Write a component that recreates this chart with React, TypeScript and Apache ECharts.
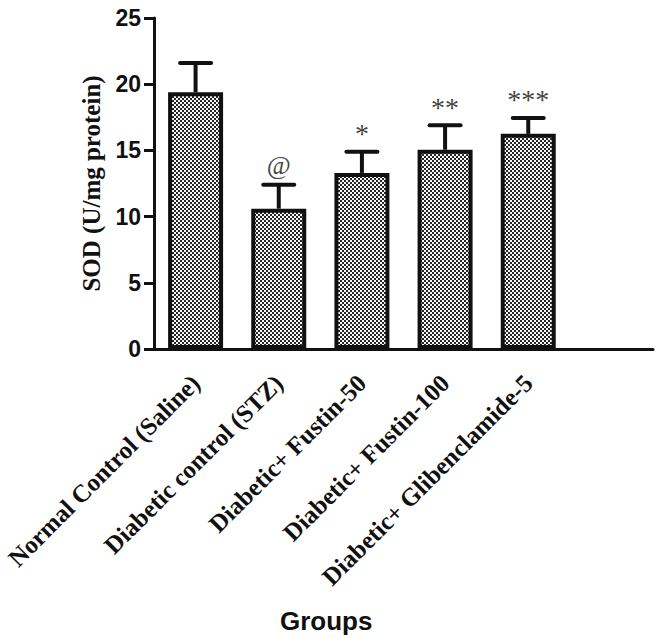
import React, { useEffect, useRef } from "react";
import * as echarts from "echarts";

const categories = [
  "Normal Control (Saline)",
  "Diabetic control (STZ)",
  "Diabetic+ Fustin-50",
  "Diabetic+ Fustin-100",
  "Diabetic+ Glibenclamide-5",
];
const means = [19.4, 10.6, 13.3, 15.05, 16.25];
const sem = [2.2, 1.8, 1.6, 1.85, 1.2];
const marks = ["", "@", "*", "**", "***"];
const yTicks = [0, 5, 10, 15, 20, 25];

function makePattern() {
  const c = document.createElement("canvas");
  c.width = 4;
  c.height = 4;
  const ctx = c.getContext("2d")!;
  ctx.fillStyle = "#f7f7f7";
  ctx.fillRect(0, 0, 4, 4);
  ctx.fillStyle = "#262626";
  ctx.fillRect(0, 0, 2, 2);
  ctx.fillRect(2, 2, 2, 2);
  return c;
}

export default function App() {
  const ref = useRef<HTMLDivElement>(null);
  useEffect(() => {
    if (!ref.current) return;
    const chart = echarts.init(ref.current, undefined, { renderer: "svg" });
    const pattern = makePattern();
    const axisData = [...categories, ""];
    const errData = means.map((m, i) => [i, m, m + sem[i], marks[i]]);
    chart.setOption({
      animation: false,
      backgroundColor: "#ffffff",
      grid: { left: 154, right: 16, top: 18, bottom: 289, containLabel: false },
      xAxis: {
        type: "category",
        data: axisData,
        axisLine: { lineStyle: { color: "#111", width: 3 } },
        axisTick: { alignWithLabel: true, length: 10, lineStyle: { color: "#111", width: 3 } },
        axisLabel: {
          rotate: 45,
          interval: 0,
          margin: 30,
          fontFamily: "Liberation Serif",
          fontWeight: "bold",
          fontSize: 25,
          color: "#111",
        },
      },
      yAxis: {
        type: "value",
        min: yTicks[0],
        max: yTicks[yTicks.length - 1],
        interval: 5,
        name: "SOD (U/mg protein)",
        nameLocation: "middle",
        nameGap: 50,
        nameTextStyle: {
          fontFamily: "Liberation Serif",
          fontWeight: "bold",
          fontSize: 25,
          color: "#111",
        },
        splitLine: { show: false },
        axisLine: { show: true, lineStyle: { color: "#111", width: 3 } },
        axisTick: { show: true, length: 10, lineStyle: { color: "#111", width: 3 } },
        axisLabel: {
          margin: 13,
          fontFamily: "Liberation Sans",
          fontWeight: "bold",
          fontSize: 23,
          color: "#111",
        },
      },
      series: [
        {
          type: "bar",
          data: means,
          barWidth: 55,
          itemStyle: {
            color: { image: pattern, repeat: "repeat", imageWidth: 4, imageHeight: 4 },
            borderColor: "#111",
            borderWidth: 4,
          },
          z: 2,
        },
        {
          type: "custom",
          data: errData,
          z: 3,
          renderItem: (params: any, api: any) => {
            const idx = api.value(0);
            const base = api.coord([idx, api.value(1)]);
            const top = api.coord([idx, api.value(2)]);
            const half = 15.5;
            const mark = marks[params.dataIndex];
            return {
              type: "group",
              children: [
                {
                  type: "line",
                  shape: { x1: base[0], y1: base[1], x2: top[0], y2: top[1] },
                  style: { stroke: "#111", lineWidth: 4 },
                },
                {
                  type: "line",
                  shape: { x1: top[0] - half, y1: top[1], x2: top[0] + half, y2: top[1] },
                  style: { stroke: "#111", lineWidth: 4, lineCap: "round" },
                },
                {
                  type: "text",
                  x: top[0],
                  y: mark === "@" ? top[1] - 6 : top[1] - 4,
                  style: {
                    text: mark,
                    fontFamily: "Liberation Serif",
                    fontSize: mark === "@" ? 26 : 28,
                    fill: "#444",
                    align: "center",
                    verticalAlign: "bottom",
                  },
                },
              ],
            };
          },
        },
      ],
      graphic: [
        {
          type: "text",
          left: 280,
          top: 608,
          style: {
            text: "Groups",
            fontFamily: "Liberation Sans",
            fontWeight: "bold",
            fontSize: 26,
            fill: "#111",
          },
        },
      ],
    });
    return () => chart.dispose();
  }, []);
  return (
    <div
      ref={ref}
      style={{ position: "fixed", left: 0, top: 0, width: 669, height: 638 }}
    />
  );
}
